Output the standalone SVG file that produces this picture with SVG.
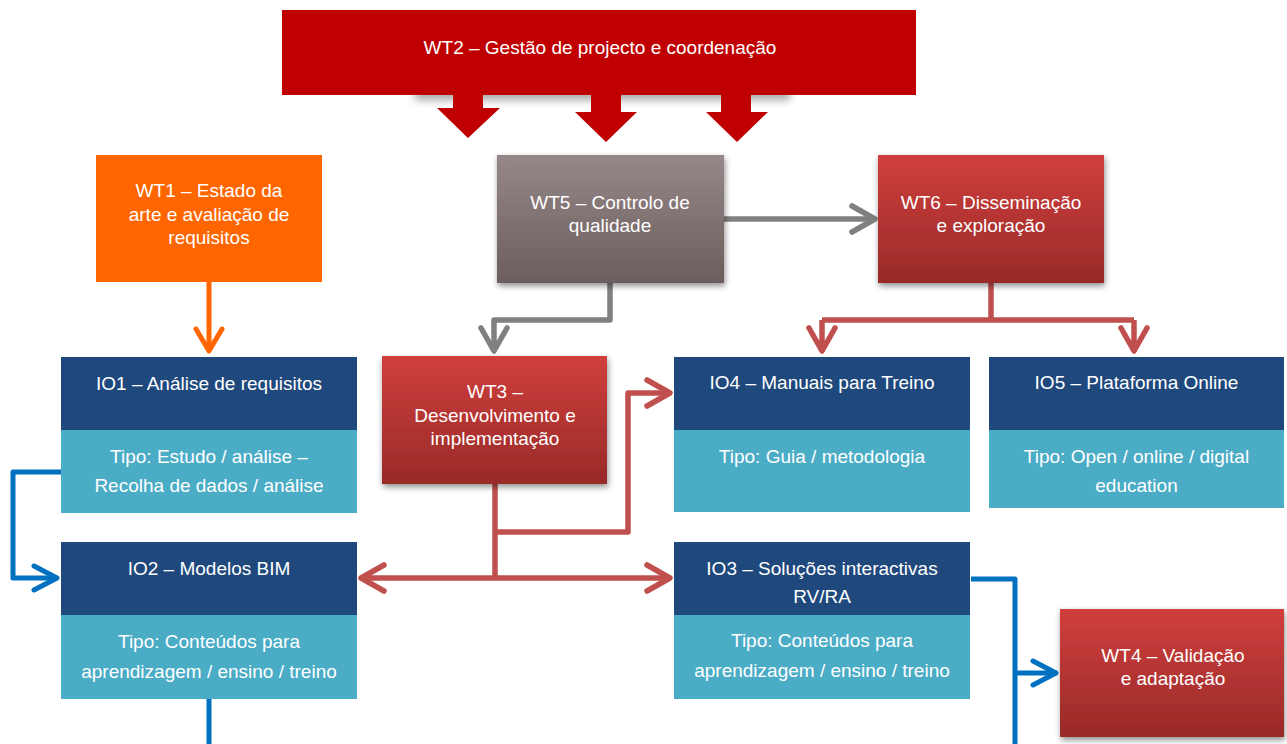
<svg xmlns="http://www.w3.org/2000/svg" width="1287" height="744" viewBox="0 0 1287 744">
<style>
.t{fill:#fff;font-family:"Liberation Sans",Arial,sans-serif;font-size:19px;text-anchor:middle}
.dk{fill:#1F497D}
.lt{fill:#4BACC6}
.c{fill:none;stroke-width:5.5;stroke-linejoin:round}
.r{stroke:#C0504D}
.g{stroke:#808080}
.b{stroke:#0070C0;stroke-width:5}
.o{stroke:#FF6600;stroke-width:5}
</style>
<defs>
<linearGradient id="red" x1="0" y1="0" x2="0" y2="1"><stop offset="0" stop-color="#D03F3D"/><stop offset="1" stop-color="#982A28"/></linearGradient>
<linearGradient id="gray" x1="0" y1="0" x2="0" y2="1"><stop offset="0" stop-color="#968888"/><stop offset="1" stop-color="#6C5D5D"/></linearGradient>
<filter id="sh" x="-10%" y="-10%" width="125%" height="130%"><feGaussianBlur in="SourceAlpha" stdDeviation="3"/><feOffset dx="1" dy="3" result="b"/><feComponentTransfer><feFuncA type="linear" slope="0.45"/></feComponentTransfer><feMerge><feMergeNode/><feMergeNode in="SourceGraphic"/></feMerge></filter>
<filter id="blur" x="-20%" y="-100%" width="140%" height="300%"><feGaussianBlur stdDeviation="4"/></filter>
<marker id="mR" viewBox="-28 -16 32 32" markerWidth="32" markerHeight="32" refX="0" refY="0" orient="auto" markerUnits="userSpaceOnUse" overflow="visible"><path d="M-23,-13 L0,0 L-23,13" fill="none" stroke="#C0504D" stroke-width="5.5" stroke-linecap="round" stroke-linejoin="round"/></marker>
<marker id="mG" viewBox="-28 -16 32 32" markerWidth="32" markerHeight="32" refX="0" refY="0" orient="auto" markerUnits="userSpaceOnUse" overflow="visible"><path d="M-23,-13 L0,0 L-23,13" fill="none" stroke="#808080" stroke-width="5.5" stroke-linecap="round" stroke-linejoin="round"/></marker>
<marker id="mB" viewBox="-28 -16 32 32" markerWidth="32" markerHeight="32" refX="0" refY="0" orient="auto" markerUnits="userSpaceOnUse" overflow="visible"><path d="M-23,-12 L0,0 L-23,12" fill="none" stroke="#0070C0" stroke-width="5" stroke-linecap="round" stroke-linejoin="round"/></marker>
<marker id="mO" viewBox="-28 -16 32 32" markerWidth="32" markerHeight="32" refX="0" refY="0" orient="auto" markerUnits="userSpaceOnUse" overflow="visible"><path d="M-22,-13 L0,0 L-22,13" fill="none" stroke="#FF6600" stroke-width="5" stroke-linecap="round" stroke-linejoin="round"/></marker>
</defs>
<rect width="1287" height="744" fill="#fff"/>

<g id="connectors">
<path class="c o" d="M209,282 V351" marker-end="url(#mO)"/>
<path class="c g" d="M724,219 H875" marker-end="url(#mG)"/>
<path class="c g" d="M610,283 V320 H494 V351" marker-end="url(#mG)"/>
<path class="c r" d="M991,283 V320"/>
<path class="c r" d="M822,320 H1134"/>
<path class="c r" d="M822,320 V351" marker-end="url(#mR)"/>
<path class="c r" d="M1134,320 V351" marker-end="url(#mR)"/>
<path class="c r" d="M495,484 V578"/>
<path class="c r" d="M495,532 H628 V393 H670" marker-end="url(#mR)"/>
<path class="c r" d="M495,578 H361" marker-end="url(#mR)"/>
<path class="c r" d="M495,578 H670" marker-end="url(#mR)"/>
<path class="c b" d="M61,472 H13 V578 H57" marker-end="url(#mB)"/>
<path class="c b" d="M209,699 V744"/>
<path class="c b" d="M971,579 H1015 V744"/>
<path class="c b" d="M1015,673 H1056" marker-end="url(#mB)"/>
</g>

<g id="wt2">
<rect x="415" y="88" width="375" height="12" fill="#000" opacity="0.35" filter="url(#blur)"/>
<polygon points="453,94 483,94 483,108 500,108 468,138 437,108 453,108" fill="#C00000"/>
<polygon points="591,94 621,94 621,112 637,112 606,142 575,112 591,112" fill="#C00000"/>
<polygon points="721,94 751,94 751,112 768,112 737,142 706,112 721,112" fill="#C00000"/>
<rect x="282" y="10" width="634" height="85" fill="#C00000"/>
<text class="t" x="600" y="54">WT2 – Gestão de projecto e coordenação</text>
</g>

<g id="wt1">
<rect x="96" y="155" width="226" height="127" fill="#FF6600"/>
<text class="t" x="209" y="197">WT1 – Estado da</text>
<text class="t" x="209" y="220.5">arte e avaliação de</text>
<text class="t" x="209" y="244">requisitos</text>
</g>

<g id="wt5">
<rect x="497" y="155" width="227" height="128" fill="url(#gray)" filter="url(#sh)"/>
<text class="t" x="610" y="209">WT5 – Controlo de</text>
<text class="t" x="610" y="232">qualidade</text>
</g>

<g id="wt6">
<rect x="878" y="155" width="226" height="128" fill="url(#red)" filter="url(#sh)"/>
<text class="t" x="991" y="209">WT6 – Disseminação</text>
<text class="t" x="991" y="232">e exploração</text>
</g>

<g id="wt3">
<rect x="382" y="356" width="225" height="128" fill="url(#red)" filter="url(#sh)"/>
<text class="t" x="495" y="398">WT3 –</text>
<text class="t" x="495" y="421.5">Desenvolvimento e</text>
<text class="t" x="495" y="445">implementação</text>
</g>

<g id="wt4">
<rect x="1060" y="609" width="224" height="128" fill="url(#red)" filter="url(#sh)"/>
<text class="t" x="1173" y="662">WT4 – Validação</text>
<text class="t" x="1173" y="685">e adaptação</text>
</g>

<g id="io1">
<rect class="dk" x="61" y="357" width="296" height="73"/>
<rect class="lt" x="61" y="430" width="296" height="83"/>
<text class="t" x="209" y="390">IO1 – Análise de requisitos</text>
<text class="t" x="209" y="463">Tipo: Estudo / análise –</text>
<text class="t" x="209" y="492">Recolha de dados / análise</text>
</g>

<g id="io2">
<rect class="dk" x="61" y="542" width="296" height="73"/>
<rect class="lt" x="61" y="615" width="296" height="84"/>
<text class="t" x="209" y="575">IO2 – Modelos BIM</text>
<text class="t" x="209" y="648">Tipo: Conteúdos para</text>
<text class="t" x="209" y="678">aprendizagem / ensino / treino</text>
</g>

<g id="io4">
<rect class="dk" x="674" y="357" width="296" height="73"/>
<rect class="lt" x="674" y="430" width="296" height="82"/>
<text class="t" x="822" y="389">IO4 – Manuais para Treino</text>
<text class="t" x="822" y="463">Tipo: Guia / metodologia</text>
</g>

<g id="io5">
<rect class="dk" x="989" y="357" width="295" height="73"/>
<rect class="lt" x="989" y="430" width="295" height="78"/>
<text class="t" x="1136.5" y="389">IO5 – Plataforma Online</text>
<text class="t" x="1136.5" y="463">Tipo: Open / online / digital</text>
<text class="t" x="1136.5" y="492">education</text>
</g>

<g id="io3">
<rect class="dk" x="674" y="542" width="296" height="73"/>
<rect class="lt" x="674" y="615" width="296" height="84"/>
<text class="t" x="822" y="575">IO3 – Soluções interactivas</text>
<text class="t" x="822" y="603">RV/RA</text>
<text class="t" x="822" y="647">Tipo: Conteúdos para</text>
<text class="t" x="822" y="677">aprendizagem / ensino / treino</text>
</g>
</svg>
